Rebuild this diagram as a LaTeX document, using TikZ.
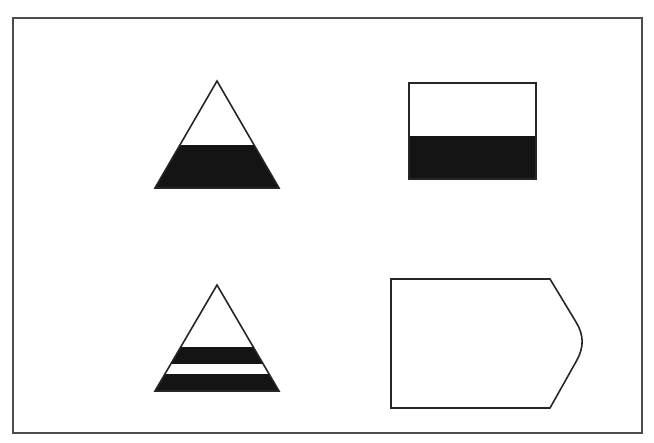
\documentclass[tikz,border=0pt]{standalone}
\begin{document}
\begin{tikzpicture}[x=1pt, y=-1pt, outline/.style={draw=black!85, line width=1.6pt, line join=miter}, band/.style={fill=black!92}]
\useasboundingbox (0,0) rectangle (654,443);
\draw[draw=black!70, line width=1.8pt] (13,18) rectangle (642,433);
% triangle, lower part filled
\coordinate (A) at (217,81);
\coordinate (B) at (155,188);
\coordinate (C) at (279,188);
\begin{scope}
\clip (A) -- (B) -- (C) -- cycle;
\fill[band] (140,145) rectangle (300,190);
\end{scope}
\draw[outline] (A) -- (B) -- (C) -- cycle;
% rectangle, lower half filled
\fill[band] (409,136) rectangle (536,179);
\draw[outline] (409,83) rectangle (536,179);
% triangle with two bands
\coordinate (D) at (217,285);
\coordinate (E) at (155,391);
\coordinate (F) at (279,391);
\begin{scope}
\clip (D) -- (E) -- (F) -- cycle;
\fill[band] (140,347) rectangle (300,364);
\fill[band] (140,374) rectangle (300,393);
\end{scope}
\draw[outline] (D) -- (E) -- (F) -- cycle;
% pointed box
\draw[outline] (391,279) -- (550,279) -- (576,322) .. controls (584,335) and (584,347) .. (577,360) -- (550,408) -- (391,408) -- cycle;
\end{tikzpicture}
\end{document}
